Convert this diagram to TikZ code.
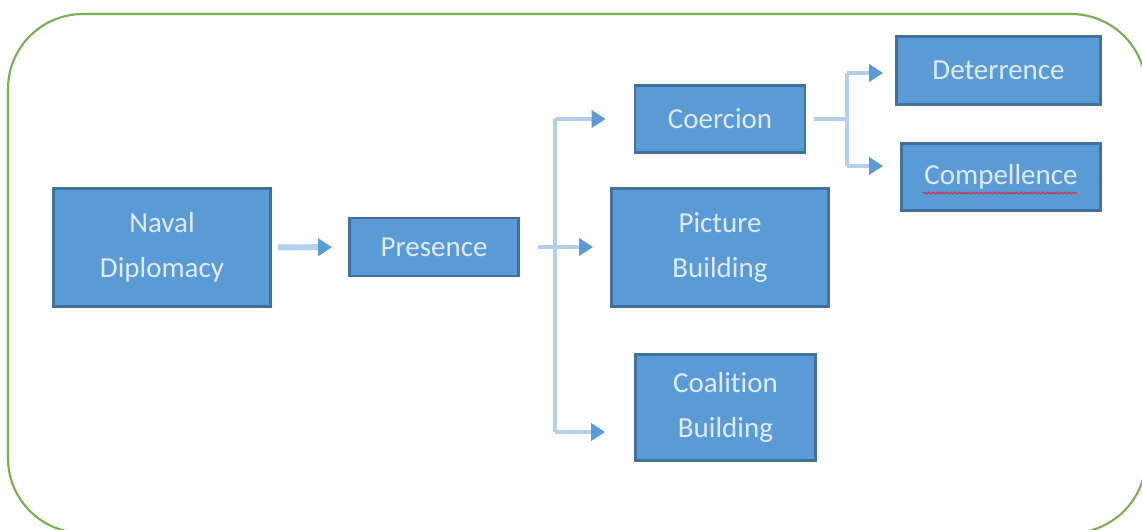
\documentclass[tikz,border=0pt]{standalone}
\usepackage{fontspec}
\setmainfont[Ligatures=NoCommon]{Carlito}
\usetikzlibrary{arrows.meta,decorations.pathmorphing}

\definecolor{boxfill}{RGB}{91,155,213}
\definecolor{boxedge}{RGB}{65,113,156}
\definecolor{boxtext}{RGB}{222,235,247}
\definecolor{linkline}{RGB}{178,208,236}
\definecolor{linktip}{RGB}{91,155,213}
\definecolor{framegreen}{RGB}{120,176,80}
\definecolor{spellred}{RGB}{190,60,90}

\tikzset{
  box/.style={draw=boxedge, fill=boxfill, line width=1.6pt, text=boxtext, align=center, inner sep=0pt, font=\fontsize{16.5}{25.5}\selectfont},
  link/.style={draw=linkline, line width=2.6pt, -{Triangle[length=0.28cm,width=0.34cm,color=linktip]}},
  trunk/.style={draw=linkline, line width=2.6pt},
}

\begin{document}
\begin{tikzpicture}[x=0.02cm, y=-0.02cm]
\useasboundingbox (0,0) rectangle (1142,529);
\clip (0,0) rectangle (1142,529);

% Outer frame
\draw[framegreen, line width=1.2pt, rounded corners=1.5cm] (8,14) rectangle (1146,533);

% Boxes
\node[box, minimum width=4.34cm, minimum height=2.36cm] (nav) at (162,247.5) {Naval\\Diplomacy};
\node[box, minimum width=3.38cm, minimum height=1.16cm] (pres) at (434,247) {Presence};
\node[box, minimum width=3.4cm, minimum height=1.34cm] (coer) at (720,119) {Coercion};
\node[box, minimum width=4.34cm, minimum height=2.36cm] (pict) at (720,247.5) {Picture\\Building};
\node[box, minimum width=3.6cm, minimum height=2.12cm] (coal) at (725.5,407.5) {Coalition\\Building};
\node[box, minimum width=4.08cm, minimum height=1.36cm] (deter) at (998.5,70.5) {Deterrence};
\node[box, minimum width=3.98cm, minimum height=1.34cm] (compel) at (1001,177) {Compellence};

% Spelling mark under Compellence
\draw[spellred, line width=0.8pt, decorate, decoration={snake, amplitude=0.4pt, segment length=2.5pt}] (923,193) -- (1077,193);

% Naval Diplomacy to Presence
\draw[link, line width=3.4pt, shorten <=0.12cm, shorten >=0.32cm] (nav) -- (pres);

% Presence branches
\coordinate (fork1) at (555,247);
\coordinate (f1top) at (555,119);
\coordinate (f1bot) at (555,432);
\draw[trunk, shorten <=0.36cm] (pres) -- (fork1);
\draw[trunk] (f1top) -- (f1bot);
\draw[link, shorten >=0.56cm] (f1top) -- (f1top -| coer.west);
\draw[link, shorten >=0.34cm] (fork1) -- (fork1 -| pict.west);
\draw[link, shorten >=0.58cm] (f1bot) -- (f1bot -| coal.west);

% Coercion branches
\coordinate (fork2) at (847,119);
\coordinate (f2top) at (847,73);
\coordinate (f2bot) at (847,166);
\draw[trunk, shorten <=0.16cm] (coer) -- (fork2);
\draw[trunk] (f2top) -- (f2bot);
\draw[link, shorten >=0.24cm] (f2top) -- (f2top -| deter.west);
\draw[link, shorten >=0.34cm] (f2bot) -- (f2bot -| compel.west);
\end{tikzpicture}
\end{document}
